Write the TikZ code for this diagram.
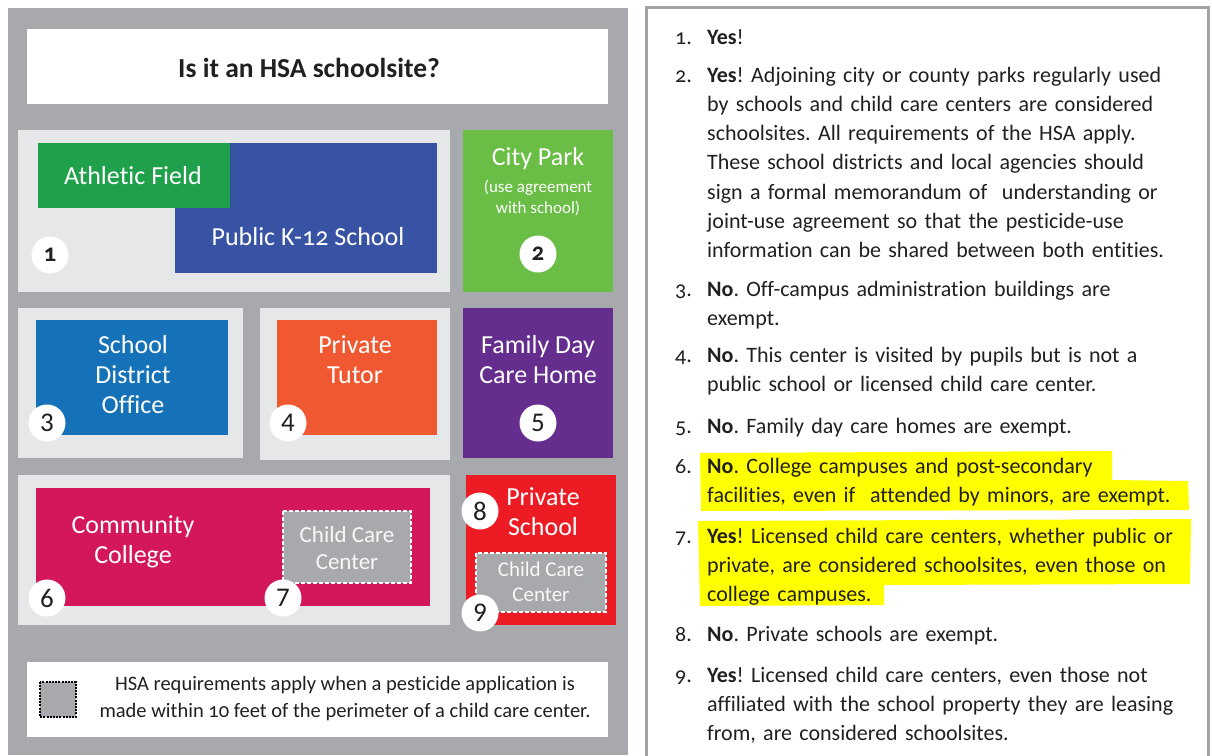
\documentclass[tikz,border=0pt]{standalone}
\usepackage{fontspec}
\setmainfont{Carlito}[Numbers=OldStyle, Ligatures=NoCommon]
\newfontfamily\linfont{Carlito}[Numbers=Lining]
\definecolor{panelgrey}{HTML}{A7A9AC}
\definecolor{lightbox}{HTML}{E6E7E8}
\definecolor{fieldgreen}{HTML}{1FA04B}
\definecolor{k12blue}{HTML}{3953A4}
\definecolor{parkgreen}{HTML}{6ABD45}
\definecolor{officeblue}{HTML}{1572B9}
\definecolor{tutororange}{HTML}{EF5830}
\definecolor{homepurple}{HTML}{652D8E}
\definecolor{collegecrimson}{HTML}{D4165B}
\definecolor{privred}{HTML}{ED1C24}
\definecolor{ccgrey}{HTML}{A7A9AC}
\definecolor{inkdark}{HTML}{231F20}
\definecolor{framegrey}{HTML}{A3A3A3}
\definecolor{hiyellow}{HTML}{FFFF00}
\definecolor{shadowgrey}{HTML}{C8C9CB}
\tikzset{
  boxlabel/.style={text=white, align=center, inner sep=0pt, font=\fontsize{26}{30}\selectfont},
  smalllabel/.style={text=white, align=center, inner sep=0pt, font=\fontsize{17}{21}\selectfont},
  numcirc/.style={circle, fill=white, minimum size=37pt, inner sep=0pt, text=inkdark, font=\linfont\fontsize{27}{27}\selectfont},
  numcircb/.style={numcirc, font=\bfseries\fontsize{25}{25}\selectfont},
  ccbox/.style={fill=ccgrey, draw=white, line width=2.4pt, dash pattern=on 4pt off 2pt},
  cclabel/.style={text=white!92!ccgrey, align=center, inner sep=0pt},
  itemnum/.style={anchor=base east, inner sep=0pt, text=inkdark, font=\fontsize{22}{29.3}\selectfont},
  itemtext/.style={anchor=base west, inner sep=0pt, text=inkdark, text width=495pt, align=left, font=\fontsize{22}{29.3}\selectfont},
}
\begin{document}
\frenchspacing
\begin{tikzpicture}[x=1pt,y=-1pt]
\useasboundingbox (0,0) rectangle (1212,755);
\fill[white] (0,0) rectangle (1212,755);
% left panel
\fill[panelgrey] (8,8) rectangle (628,755);
% title
\fill[white] (27,29) rectangle (608,104);
\node[text=inkdark, inner sep=0pt, font=\bfseries\fontsize{27.5}{30}\selectfont] (title) at (309,68) {Is it an HSA schoolsite?};
% row 1
\fill[lightbox] (18,130) rectangle (450,292);
\fill[k12blue] (175,143) rectangle (437,273);
\fill[fieldgreen] (38,143) rectangle (230,208);
\node[boxlabel] (field) at (133,176) {Athletic Field};
\node[boxlabel] (k12) at (308,237) {Public K-12 School};
\node[numcircb] (n1) at (50,255) {1};
\fill[parkgreen] (463,130) rectangle (613,292);
\node[boxlabel] (park) at (538,159) {City Park};
\node[smalllabel] (parknote) at (538,198) {(use agreement\\with school)};
\node[numcircb] (n2) at (538,254) {2};
% row 2
\fill[lightbox] (18,308) rectangle (243,458);
\fill[officeblue] (36,320) rectangle (228,435);
\node[boxlabel] (office) at (133,375) {School\\District\\Office};
\node[numcirc] (n3) at (47,423) {3};
\fill[lightbox] (260,308) rectangle (450,460);
\fill[tutororange] (277,320) rectangle (437,435);
\node[boxlabel] (tutor) at (355,360) {Private\\Tutor};
\node[numcirc] (n4) at (288,423) {4};
\fill[homepurple] (463,308) rectangle (613,458);
\node[boxlabel] (home) at (538,360) {Family Day\\Care Home};
\node[numcirc] (n5) at (538,423) {5};
% row 3
\fill[lightbox] (18,475) rectangle (450,625);
\fill[collegecrimson] (36,488) rectangle (430,606);
\node[boxlabel] (college) at (133,542) {Community\\College};
\draw[ccbox] (283,511) rectangle (411,583);
\node[cclabel, font=\fontsize{23}{27}\selectfont] (cc1) at (347,548) {Child Care\\Center};
\node[numcirc] (n6) at (47,598) {6};
\node[numcirc] (n7) at (283,598) {7};
\fill[privred] (466,475) rectangle (616,625);
\node[boxlabel] (priv) at (543,512) {Private\\School};
\draw[ccbox] (476,553) rectangle (606,612);
\node[cclabel, font=\fontsize{21}{25}\selectfont] (cc2) at (541,582) {Child Care\\Center};
\node[numcirc] (n8) at (480,511) {8};
\node[numcirc] (n9) at (480,613) {9};
% legend
\fill[white] (27,662) rectangle (608,737);
\draw[fill=ccgrey, draw=black, line width=2pt, dash pattern=on 2pt off 1.2pt] (40,682) rectangle (76,717);
\node[text=inkdark, align=center, inner sep=0pt, font=\fontsize{20.5}{27}\selectfont] (legend) at (345,698.5) {HSA requirements apply when a pesticide application is\\made within 10 feet of the perimeter of a child care center.};
% right panel
\draw[framegrey, line width=3pt, fill=white] (646,7) rectangle (1208,762);
% highlights
\fill[hiyellow] (700,453) -- (1112,451) -- (1112,480) -- (1188,481) -- (1189,510) -- (701,511) -- cycle;
\fill[hiyellow] (698,521) -- (1191,519) -- (1190,584) -- (884,585) -- (884,605) -- (700,606) -- cycle;
% items
\node[itemnum] (i1) at (692,44) {1.};
\node[itemtext] (t1) at (707,44) {\textbf{Yes}!};
\node[itemnum] (i2) at (692,82) {2.};
\node[itemtext] (t2) at (707,82) {\textbf{Yes}! Adjoining city or county parks regularly used\\by schools and child care centers are considered\\schoolsites. All requirements of the HSA apply.\\These school districts and local agencies should\\sign a formal memorandum of\ \ understanding or\\joint-use agreement so that the pesticide-use\\information can be shared between both entities.};
\node[itemnum] (i3) at (692,296) {3.};
\node[itemtext] (t3) at (707,296) {\textbf{No}. Off-campus administration buildings are\\exempt.};
\node[itemnum] (i4) at (692,362) {4.};
\node[itemtext] (t4) at (707,362) {\textbf{No}. This center is visited by pupils but is not a\\public school or licensed child care center.};
\node[itemnum] (i5) at (692,433) {5.};
\node[itemtext] (t5) at (707,433) {\textbf{No}. Family day care homes are exempt.};
\node[itemnum] (i6) at (692,473) {6.};
\node[itemtext] (t6) at (707,473) {\textbf{No}. College campuses and post-secondary\\facilities, even if\ \ attended by minors, are exempt.};
\node[itemnum] (i7) at (692,543) {7.};
\node[itemtext] (t7) at (707,543) {\textbf{Yes}! Licensed child care centers, whether public or\\private, are considered schoolsites, even those on\\college campuses.};
\node[itemnum] (i8) at (692,641) {8.};
\node[itemtext] (t8) at (707,641) {\textbf{No}. Private schools are exempt.};
\node[itemnum] (i9) at (692,682) {9.};
\node[itemtext] (t9) at (707,682) {\textbf{Yes}! Licensed child care centers, even those not\\affiliated with the school property they are leasing\\from, are considered schoolsites.};
\end{tikzpicture}
\end{document}
